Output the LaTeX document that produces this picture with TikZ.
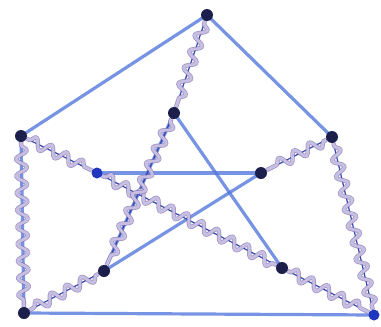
\documentclass[tikz,border=0pt]{standalone}
\usetikzlibrary{decorations.pathmorphing,backgrounds}
\definecolor{rodblue}{RGB}{85,120,220}
\definecolor{coreblue}{RGB}{50,70,170}
\definecolor{springlight}{RGB}{200,190,225}
\definecolor{springdark}{RGB}{120,110,180}
\definecolor{ballnavy}{RGB}{28,30,75}
\definecolor{ballblue}{RGB}{30,55,190}
\tikzset{
  ball/.style={circle,fill=ballnavy,inner sep=0pt,minimum size=12pt},
  brightball/.style={circle,fill=ballblue,inner sep=0pt,minimum size=11pt},
  rod/.style={draw=rodblue,line width=3.2pt,opacity=0.8,shorten <=-4pt,shorten >=-4pt},
  core/.style={draw=coreblue,line width=1.2pt,shorten <=-4pt,shorten >=-4pt},
  springdeco/.style={decorate,decoration={snake,amplitude=5.5pt,segment length=17pt,pre length=3pt,post length=3pt}},
  springout/.style={draw=springdark,line width=4.4pt,opacity=0.7,line join=round,springdeco},
  springin/.style={draw=springlight,line width=2.8pt,line join=round,springdeco}
}
\begin{document}
\begin{tikzpicture}[x=1pt,y=-1pt]
\useasboundingbox (0,0) rectangle (381,327);
\node[ball] (T) at (207,15) {};
\node[ball] (L) at (21,136) {};
\node[ball] (R) at (332,137) {};
\node[ball] (BL) at (24,313) {};
\node[brightball] (BR) at (374,315) {};
\node[ball] (C) at (174,113) {};
\node[brightball] (IL) at (97,173) {};
\node[ball] (IR) at (261,173) {};
\node[ball] (LB) at (104,271) {};
\node[ball] (RB) at (282,268) {};
\begin{scope}[on background layer]
  \fill[white] (0,0) rectangle (381,327);
  % rods
  \draw[rod] (T) -- (L);
  \draw[rod] (T) -- (R);
  \draw[rod] (BL) -- (BR);
  \draw[rod] (L) -- (BL);
  \draw[rod] (IL) -- (IR);
  \draw[rod] (C) -- (LB);
  \draw[rod] (C) -- (RB);
  \draw[rod] (IR) -- (LB);
  % spring cores
  \foreach \a/\b in {T/C,L/IL,IL/RB,RB/BR,R/IR,R/BR,LB/BL,C/LB}
    \draw[core] (\a) -- (\b);
  % springs
  \foreach \a/\b in {T/C,L/BL,L/IL,IL/RB,RB/BR,R/IR,R/BR,LB/BL,C/LB}
    {\draw[springout] (\a) -- (\b);
     \draw[springin] (\a) -- (\b);}
\end{scope}
\end{tikzpicture}
\end{document}
